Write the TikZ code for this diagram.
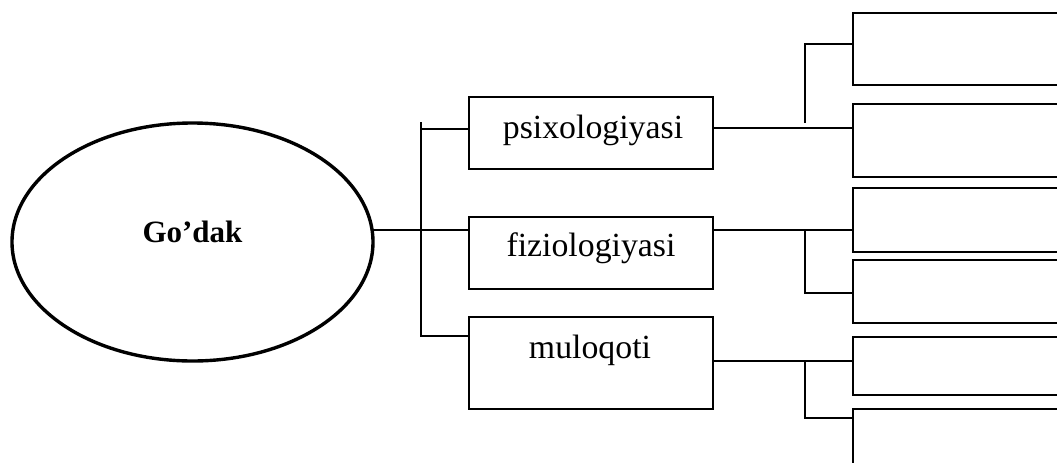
\documentclass[tikz,border=0pt]{standalone}
\usepackage{fontspec}
\setmainfont{Liberation Serif}
\usetikzlibrary{shapes.geometric}

\begin{document}
\begin{tikzpicture}[x=0.5pt,y=-0.5pt,
  box/.style={draw,line width=1pt,rectangle,inner sep=0pt,outer sep=0pt,minimum width=122pt,anchor=north west},
  sidebox/.style={draw,line width=1pt,rectangle,inner sep=0pt,outer sep=0pt,minimum width=115pt,anchor=north west},
  conn/.style={line width=0.8pt},
  lbl/.style={anchor=base,inner sep=0pt,font=\fontsize{16.9}{20}\selectfont}]
\clip (0,0) rectangle (1057,462);

% Centre
\node[draw,ellipse,line width=1.7pt,inner sep=0pt,outer sep=0pt,minimum width=180.5pt,minimum height=119pt] (godak) at (192.5,242) {};
\node[lbl,font=\fontsize{15.5}{18}\selectfont\bfseries] (godaklbl) at (192.5,242) {Go’dak};

% Middle boxes
\node[box,minimum height=36pt] (psi) at (469,97) {};
\node[box,minimum height=36pt] (fiz) at (469,217) {};
\node[box,minimum height=46pt] (mul) at (469,317) {};
\node[lbl] (psilbl) at (593,138) {psixologiyasi};
\node[lbl] (fizlbl) at (591,256) {fiziologiyasi};
\node[lbl] (mullbl) at (590,358) {muloqoti};

% Empty boxes on the right
\node[sidebox,minimum height=36pt] (ra) at (853,13) {};
\node[sidebox,minimum height=36.5pt] (rb) at (853,104) {};
\node[sidebox,minimum height=32pt] (rc) at (853,188) {};
\node[sidebox,minimum height=31.5pt] (rd) at (853,260) {};
\node[sidebox,minimum height=29pt] (re) at (853,337) {};
\node[sidebox,minimum height=36pt] (rf) at (853,409) {};

% Left bracket
\coordinate (trunk) at (421,230);
\coordinate (brtop) at (421,122);
\coordinate (brone) at (421,129);
\coordinate (brbot) at (421,336);
\draw[conn] (godak.east |- trunk) -- (trunk -| fiz.west);
\draw[conn] (brtop) -- (brbot) -- (brbot -| mul.west);
\draw[conn] (brone) -- (brone -| psi.west);

% Right brackets
\coordinate (ja) at (805,128);
\coordinate (jatop) at (805,123);
\coordinate (jahi) at (805,44);
\coordinate (jb) at (805,230);
\coordinate (jblo) at (805,293);
\coordinate (jc) at (805,361);
\coordinate (jclo) at (805,418);
\draw[conn] (psi.east |- ja) -- (ja -| rb.west);
\draw[conn] (jatop) -- (jahi) -- (jahi -| ra.west);
\draw[conn] (fiz.east |- jb) -- (jb -| rc.west);
\draw[conn] (jb) -- (jblo) -- (jblo -| rd.west);
\draw[conn] (mul.east |- jc) -- (jc -| re.west);
\draw[conn] (jc) -- (jclo) -- (jclo -| rf.west);
\end{tikzpicture}
\end{document}
